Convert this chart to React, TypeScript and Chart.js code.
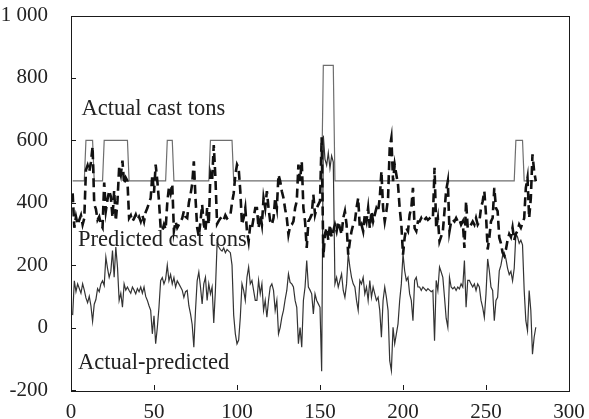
import { useEffect, useRef } from 'react';
import { Chart, registerables } from 'chart.js';

Chart.register(...registerables);

// Sample numbers (x axis)
const sampleNo: number[] = Array.from({ length: 280 }, (_, i) => i + 1);

// Actual cast tons: step series given by its corner points
const actualX = [1, 8, 9, 13, 14, 19, 20, 34, 35, 57, 58, 61, 62, 83, 84, 97, 98, 151, 152, 158, 159, 267, 268, 272, 273, 280];
const actualY = [470, 470, 600, 600, 470, 470, 600, 600, 470, 470, 600, 600, 470, 470, 600, 600, 470, 470, 840, 840, 470, 470, 600, 600, 470, 470];

// Predicted cast tons
const predicted = [
  430, 320, 355, 330, 345, 360, 330, 350, 505, 520,
  500, 530, 580, 395, 380, 345, 355, 330, 320, 465,
  374, 410, 439, 420, 353, 439, 342, 406, 513, 490,
  535, 460, 480, 470, 351, 360, 340, 350, 362, 345,
  355, 340, 360, 340, 370, 383, 400, 415, 490, 432,
  522, 470, 405, 320, 310, 330, 315, 400, 450, 430,
  460, 310, 340, 320, 330, 340, 350, 373, 355, 351,
  400, 426, 460, 533, 415, 320, 292, 340, 394, 330,
  309, 383, 330, 492, 470, 585, 480, 332, 342, 350,
  355, 345, 360, 350, 355, 360, 400, 430, 490, 522,
  510, 437, 330, 351, 383, 309, 276, 330, 319, 351,
  383, 383, 319, 362, 330, 415, 383, 437, 383, 340,
  330, 351, 415, 383, 490, 470, 437, 415, 380, 351,
  298, 325, 330, 340, 383, 405, 522, 470, 533, 383,
  340, 255, 340, 350, 362, 426, 362, 383, 394, 405,
  610, 225, 300, 320, 280, 330, 290, 310, 330, 309,
  340, 319, 298, 351, 373, 330, 234, 276, 309, 330,
  340, 383, 415, 319, 330, 309, 362, 340, 383, 319,
  373, 340, 362, 383, 373, 415, 501, 383, 340, 373,
  415, 576, 608, 469, 522, 490, 458, 383, 330, 234,
  288, 319, 309, 362, 383, 448, 319, 309, 340, 340,
  351, 340, 346, 352, 345, 350, 355, 351, 512, 319,
  351, 276, 292, 309, 373, 440, 469, 309, 340, 346,
  340, 351, 340, 346, 330, 340, 255, 405, 319, 319,
  330, 340, 330, 351, 330, 340, 383, 405, 437, 362,
  250, 288, 340, 351, 448, 383, 373, 288, 270, 240,
  230, 250, 280, 300, 290, 320, 280, 300, 310, 330,
  320, 335, 350, 448, 480, 351, 415, 555, 501, 469,
];

// Actual - predicted
const difference = [
  40, 150, 115, 140, 125, 110, 140, 120, 95, 80,
  100, 70, 20, 75, 90, 125, 115, 140, 150, 135,
  226, 190, 161, 180, 247, 161, 258, 194, 87, 110,
  65, 140, 120, 130, 119, 110, 130, 120, 108, 125,
  115, 130, 110, 130, 100, 87, 70, 55, -20, 38,
  -52, 0, 65, 150, 160, 140, 155, 200, 150, 170,
  140, 160, 130, 150, 140, 130, 120, 97, 115, 119,
  70, 44, 10, -63, 55, 150, 178, 130, 76, 140,
  161, 87, 140, 108, 130, 15, 120, 268, 258, 250,
  245, 255, 240, 250, 245, 240, 200, 40, -20, -52,
  -40, 33, 140, 119, 87, 161, 194, 140, 151, 119,
  87, 87, 151, 108, 140, 55, 87, 33, 87, 130,
  140, 119, 55, 87, -20, 0, 33, 55, 90, 119,
  172, 145, 140, 130, 87, 65, -52, 0, -63, 87,
  130, 215, 130, 120, 108, 44, 108, 87, 76, 65,
  -140, 615, 540, 520, 560, 510, 550, 530, 140, 161,
  130, 151, 172, 119, 97, 140, 236, 194, 161, 140,
  130, 87, 55, 151, 140, 161, 108, 130, 87, 151,
  97, 130, 108, 87, 97, 55, -31, 87, 130, 97,
  55, -106, -138, 1, -52, -20, 12, 87, 140, 236,
  182, 151, 161, 108, 87, 22, 151, 161, 130, 130,
  119, 130, 124, 118, 125, 120, 115, 119, -42, 151,
  119, 194, 178, 161, 97, 30, 1, 161, 130, 124,
  130, 119, 130, 124, 140, 130, 215, 65, 151, 151,
  140, 130, 140, 119, 140, 130, 87, 65, 33, 108,
  220, 182, 130, 119, 22, 87, 97, 182, 200, 230,
  240, 220, 190, 170, 180, 150, 190, 300, 290, 270,
  280, 265, 120, 22, -10, 119, 55, -85, -31, 1,
];

const xTicks = [0, 50, 100, 150, 200, 250, 300];
const yTicks = [-200, 0, 200, 400, 600, 800, 1000];
const yTickLabels = ['-200', '0', '200', '400', '600', '800', '1 000'];

const annotations = [
  { text: 'Actual cast tons', x: 6.3, y: 680 },
  { text: 'Predicted cast tons', x: 4.2, y: 260 },
  { text: 'Actual-predicted', x: 4.2, y: -132 },
];

const SERIF = '"Liberation Serif", "DejaVu Serif", serif';

const framePlugin = {
  id: 'frameTicks',
  afterDraw(chart: any) {
    const { ctx, chartArea, scales } = chart;
    const { left, right, top, bottom } = chartArea;
    ctx.save();
    ctx.strokeStyle = '#1a1a1a';
    ctx.lineWidth = 1;
    ctx.strokeRect(Math.round(left) + 0.5, Math.round(top) + 0.5, Math.round(right - left), Math.round(bottom - top));
    ctx.beginPath();
    yTicks.forEach((v) => {
      const py = Math.round(scales.y.getPixelForValue(v)) + 0.5;
      ctx.moveTo(left, py);
      ctx.lineTo(left + 5, py);
    });
    xTicks.forEach((v) => {
      const px = Math.round(scales.x.getPixelForValue(v)) + 0.5;
      ctx.moveTo(px, bottom);
      ctx.lineTo(px, bottom - 5);
    });
    ctx.stroke();
    ctx.fillStyle = '#222';
    ctx.font = `22.5px ${SERIF}`;
    ctx.textAlign = 'left';
    ctx.textBaseline = 'alphabetic';
    annotations.forEach((a) => {
      ctx.fillText(a.text, scales.x.getPixelForValue(a.x), scales.y.getPixelForValue(a.y));
    });
    ctx.restore();
  },
};

export default function App() {
  const ref = useRef<HTMLCanvasElement>(null);
  useEffect(() => {
    document.body.style.margin = '0';
    const chart = new Chart(ref.current!, {
      type: 'line',
      data: {
        datasets: [
          {
            label: 'Predicted cast tons',
            data: predicted.map((v, i) => ({ x: sampleNo[i], y: v })),
            borderColor: '#111',
            borderWidth: 2.6,
            borderDash: [9, 5],
          },
          {
            label: 'Actual cast tons',
            data: actualY.map((v, i) => ({ x: actualX[i], y: v })),
            borderColor: '#6e6e6e',
            borderWidth: 1.2,
          },
          {
            label: 'Actual-predicted',
            data: difference.map((v, i) => ({ x: sampleNo[i], y: v })),
            borderColor: '#333',
            borderWidth: 1.2,
          },
        ],
      },
      options: {
        responsive: false,
        animation: false,
        layout: { padding: { left: 0, right: 20, top: 15.5, bottom: 0 } },
        elements: { point: { radius: 0 }, line: { tension: 0, fill: false } },
        plugins: { legend: { display: false }, tooltip: { enabled: false } },
        scales: {
          x: {
            type: 'linear',
            min: 0,
            max: 300,
            grid: { display: false },
            border: { display: false },
            ticks: {
              stepSize: 50,
              autoSkip: false,
              maxRotation: 0,
              padding: 2,
              color: '#222',
              font: { family: SERIF, size: 21 },
            },
            afterFit: (s: any) => { s.height = 29; s.paddingLeft = 0; s.paddingRight = 0; },
          },
          y: {
            type: 'linear',
            min: -200,
            max: 1000,
            grid: { display: false },
            border: { display: false },
            ticks: {
              stepSize: 200,
              padding: 15,
              color: '#222',
              font: { family: SERIF, size: 21 },
              callback: (v: any) => {
                const idx = yTicks.indexOf(Number(v));
                return idx >= 0 ? yTickLabels[idx] : '';
              },
            },
            afterFit: (s: any) => { s.width = 71; s.paddingTop = 0; s.paddingBottom = 0; },
          },
        },
      },
      plugins: [framePlugin],
    });
    return () => chart.destroy();
  }, []);
  return (
    <div style={{ width: 589, height: 419 }}>
      <canvas ref={ref} width={589} height={419} style={{ display: 'block' }} />
    </div>
  );
}
